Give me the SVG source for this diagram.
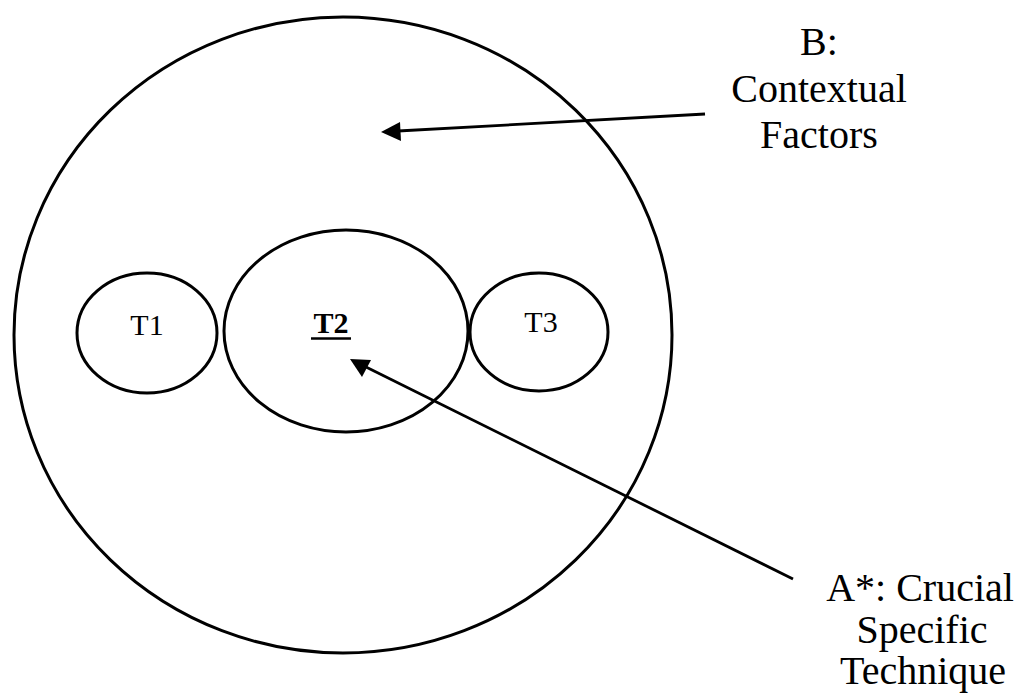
<svg xmlns="http://www.w3.org/2000/svg" width="1017" height="695" viewBox="0 0 1017 695">
<style>
.sh{fill:none;stroke:#000;stroke-width:3}
.ln{fill:none;stroke:#000;stroke-width:2.8}
.t{font-family:"Liberation Serif","Times New Roman",serif;fill:#000;text-anchor:middle}
.s{font-size:30px}
.b{font-size:40px}
</style>
<rect width="1017" height="695" fill="#fff"/>
<g id="outer"><ellipse class="sh" cx="343" cy="335" rx="329" ry="318"/></g>
<g id="t1"><ellipse class="sh" cx="147" cy="333" rx="70" ry="60"/><text class="t s" x="147" y="335">T1</text></g>
<g id="t2"><ellipse class="sh" cx="346" cy="331" rx="122" ry="101"/><text class="t s" x="331" y="333" font-weight="bold">T2</text><line x1="311" y1="338.5" x2="351" y2="338.5" stroke="#000" stroke-width="2.5"/></g>
<g id="t3"><ellipse class="sh" cx="539" cy="332" rx="69" ry="59"/><text class="t s" x="541" y="332">T3</text></g>
<g id="labelB"><text class="t b" x="819" y="55">B:</text><text class="t b" x="819" y="102">Contextual</text><text class="t b" x="819" y="148">Factors</text></g>
<g id="labelA"><text class="t b" x="920" y="601">A*: Crucial</text><text class="t b" x="922" y="643">Specific</text><text class="t b" x="923" y="684">Technique</text></g>
<g id="connectors">
<line class="ln" x1="705" y1="114" x2="398" y2="131"/>
<path d="M381,132 L400,122 L401,141 z"/>
<line class="ln" x1="793" y1="579" x2="364" y2="366"/>
<path d="M350,359 L371,360 L362,377 z"/>
</g>
</svg>
